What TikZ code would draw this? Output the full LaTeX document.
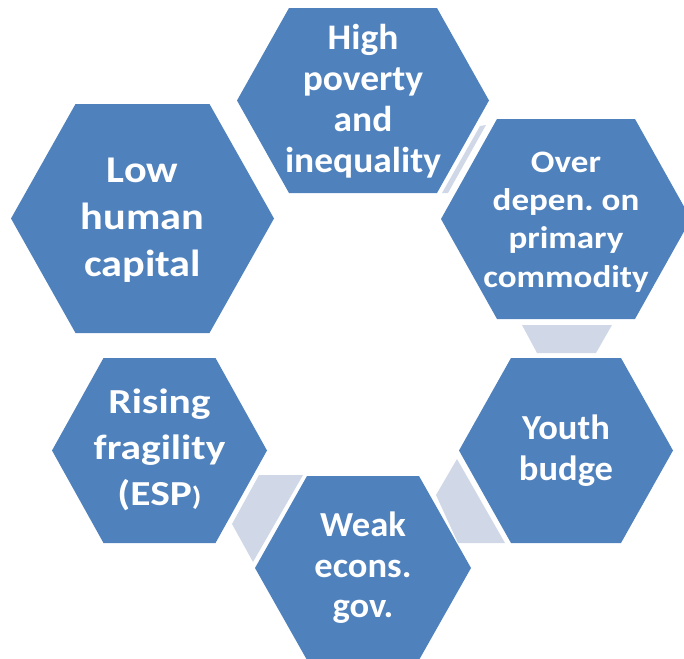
\documentclass[tikz,border=0pt]{standalone}
\usepackage{fontspec}
\setmainfont[FakeStretch=1.04]{Carlito}
\newfontfamily\widefont[FakeStretch=1.12]{Carlito}
\newfontfamily\widerfont[FakeStretch=1.18]{Carlito}
\frenchspacing

\definecolor{cellblue}{HTML}{4F81BD}
\definecolor{linkgray}{HTML}{D0D8E8}

\begin{document}
\begin{tikzpicture}
		[x=0.02cm,y=-0.02cm,
		 cell/.style={fill=cellblue},
		 link/.style={fill=linkgray},
		 every node/.style={text=white,align=center,font=\bfseries}]
	\clip (0,0) rectangle (684,659);
	% hexagons: centre x/y, half width, half height, half top edge
	\foreach \cx/\cy/\rx/\ry/\tx in {363/100.5/126/92.5/74, 566/219/125/100/69,
		566/450.5/107/92.5/55, 363/568/108/92/56, 159.5/450.5/107.5/92.5/56,
		142.5/218.5/131.5/114.5/67}
		\fill[cell] (\cx-\rx,\cy) -- (\cx-\tx,\cy-\ry) -- (\cx+\tx,\cy-\ry)
			-- (\cx+\rx,\cy) -- (\cx+\tx,\cy+\ry) -- (\cx-\tx,\cy+\ry) -- cycle;
	% links between neighbouring cells
	\fill[link] (480,126) -- (486,125) -- (448,193) -- (442,193) -- cycle;
	\fill[link] (522,325) -- (612,325) -- (596,353) -- (537,353) -- cycle;
	\fill[link] (457,459) -- (505,543) -- (458,543) -- (436,495) -- cycle;
	\fill[link] (259,475) -- (303,475) -- (253,562) -- (232,524) -- cycle;
	% labels
	\node[font=\bfseries\fontsize{20.5}{23.3}\selectfont] (poverty) at (363,101)
		{High\\poverty\\and\\inequality};
	\node[font=\widefont\bfseries\fontsize{17.8}{21.8}\selectfont] (commodity) at (566,222)
		{Over\\depen. on\\primary\\commodity};
	\node[font=\bfseries\fontsize{20}{23.3}\selectfont] (youth) at (566,450.5)
		{Youth\\budge};
	\node[font=\bfseries\fontsize{20}{23}\selectfont] (gov) at (363,568)
		{Weak\\econs.\\gov.};
	\node[font=\widerfont\bfseries\fontsize{20}{26}\selectfont] (fragility) at (159.5,450)
		{Rising\\fragility\\(ESP{\fontsize{15}{15}\selectfont)}};
	\node[font=\widefont\bfseries\fontsize{21.5}{26.7}\selectfont] (capital) at (142.5,220)
		{Low\\human\\capital};
\end{tikzpicture}
\end{document}
